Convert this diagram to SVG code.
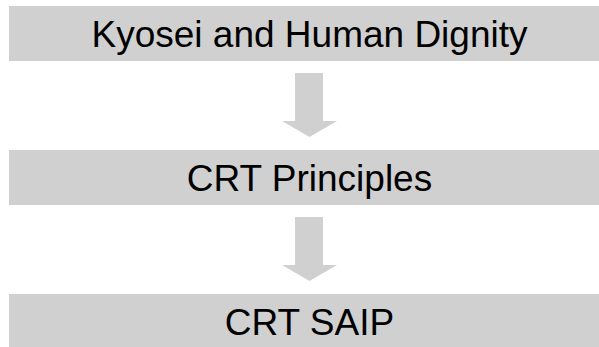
<svg xmlns="http://www.w3.org/2000/svg" width="599" height="347" viewBox="0 0 599 347">
<style>
.box{fill:#d0d0d0}
.lbl{font-family:"Liberation Sans",Arial,sans-serif;font-size:37px;fill:#000;text-anchor:middle}
.arr{fill:#d0d0d0}
</style>
<rect width="599" height="347" fill="#fff"/>
<g id="node-kyosei">
<rect class="box" x="9" y="6" width="601" height="55"/>
<text class="lbl" x="309.5" y="46.5">Kyosei and Human Dignity</text>
</g>
<g id="node-principles">
<rect class="box" x="9" y="150" width="601" height="55"/>
<text class="lbl" x="309.5" y="190.5">CRT Principles</text>
</g>
<g id="node-saip">
<rect class="box" x="9" y="294" width="601" height="55"/>
<text class="lbl" x="309.5" y="334.5">CRT SAIP</text>
</g>
<g id="connectors">
<path class="arr" d="M295,73 H323 V121 H337 L309.5,137 L282,121 H295 Z"/>
<path class="arr" d="M295,217 H323 V265 H337 L309.5,281 L282,265 H295 Z"/>
</g>
</svg>
